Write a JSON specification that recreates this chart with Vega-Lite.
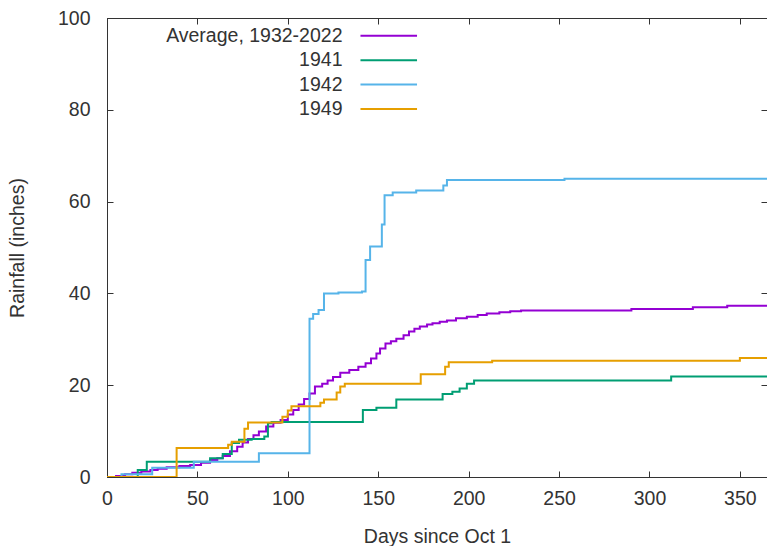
{
  "$schema": "https://vega.github.io/schema/vega-lite/v6.json",
  "width": 660,
  "height": 459,
  "autosize": {"type": "none"},
  "padding": {"left": 107, "top": 18, "right": 0, "bottom": 69},
  "background": "white",
  "config": {
    "view": {"stroke": "#333", "strokeWidth": 1},
    "font": "Liberation Sans",
    "axis": {
      "grid": false,
      "domainColor": "#333",
      "tickColor": "#333",
      "tickSize": -6,
      "labelFlush": false,
      "labelFont": "Liberation Sans",
      "labelFontSize": 19.5,
      "labelColor": "#333",
      "titleFont": "Liberation Sans",
      "titleFontSize": 19.5,
      "titleFontWeight": "normal",
      "titleColor": "#333"
    },
    "legend": {
      "labelFont": "Liberation Sans",
      "labelFontSize": 19.5,
      "labelColor": "#333"
    }
  },
  "data": {
    "values": [
      {"series": "Average, 1932-2022", "day": 0, "rain": 0},
      {"series": "Average, 1932-2022", "day": 5, "rain": 0.2},
      {"series": "Average, 1932-2022", "day": 10, "rain": 0.6},
      {"series": "Average, 1932-2022", "day": 14, "rain": 0.9},
      {"series": "Average, 1932-2022", "day": 19, "rain": 1.2},
      {"series": "Average, 1932-2022", "day": 24, "rain": 1.5},
      {"series": "Average, 1932-2022", "day": 28, "rain": 1.8},
      {"series": "Average, 1932-2022", "day": 33, "rain": 2.1},
      {"series": "Average, 1932-2022", "day": 40, "rain": 2.4},
      {"series": "Average, 1932-2022", "day": 46, "rain": 2.6},
      {"series": "Average, 1932-2022", "day": 52, "rain": 3.1},
      {"series": "Average, 1932-2022", "day": 57, "rain": 3.7},
      {"series": "Average, 1932-2022", "day": 61, "rain": 4.1},
      {"series": "Average, 1932-2022", "day": 64, "rain": 4.6},
      {"series": "Average, 1932-2022", "day": 68, "rain": 5.6},
      {"series": "Average, 1932-2022", "day": 72, "rain": 6.6},
      {"series": "Average, 1932-2022", "day": 75, "rain": 7.5},
      {"series": "Average, 1932-2022", "day": 78, "rain": 8.3},
      {"series": "Average, 1932-2022", "day": 81, "rain": 9.1},
      {"series": "Average, 1932-2022", "day": 84, "rain": 9.9},
      {"series": "Average, 1932-2022", "day": 88, "rain": 11.0},
      {"series": "Average, 1932-2022", "day": 92, "rain": 11.8},
      {"series": "Average, 1932-2022", "day": 96, "rain": 12.4},
      {"series": "Average, 1932-2022", "day": 100, "rain": 13.6},
      {"series": "Average, 1932-2022", "day": 103, "rain": 14.6},
      {"series": "Average, 1932-2022", "day": 106, "rain": 15.8},
      {"series": "Average, 1932-2022", "day": 109, "rain": 17.0},
      {"series": "Average, 1932-2022", "day": 112, "rain": 18.2},
      {"series": "Average, 1932-2022", "day": 115, "rain": 19.7},
      {"series": "Average, 1932-2022", "day": 119, "rain": 20.3},
      {"series": "Average, 1932-2022", "day": 122, "rain": 21.0},
      {"series": "Average, 1932-2022", "day": 125, "rain": 21.8},
      {"series": "Average, 1932-2022", "day": 129, "rain": 22.7},
      {"series": "Average, 1932-2022", "day": 134, "rain": 23.3},
      {"series": "Average, 1932-2022", "day": 139, "rain": 24.0},
      {"series": "Average, 1932-2022", "day": 143, "rain": 24.8},
      {"series": "Average, 1932-2022", "day": 146, "rain": 25.8},
      {"series": "Average, 1932-2022", "day": 149, "rain": 26.9},
      {"series": "Average, 1932-2022", "day": 151, "rain": 28.0},
      {"series": "Average, 1932-2022", "day": 154, "rain": 29.1},
      {"series": "Average, 1932-2022", "day": 157, "rain": 29.6},
      {"series": "Average, 1932-2022", "day": 160, "rain": 30.1},
      {"series": "Average, 1932-2022", "day": 164, "rain": 30.9},
      {"series": "Average, 1932-2022", "day": 167, "rain": 31.7},
      {"series": "Average, 1932-2022", "day": 170, "rain": 32.3},
      {"series": "Average, 1932-2022", "day": 173, "rain": 32.8},
      {"series": "Average, 1932-2022", "day": 177, "rain": 33.2},
      {"series": "Average, 1932-2022", "day": 180, "rain": 33.5},
      {"series": "Average, 1932-2022", "day": 184, "rain": 33.8},
      {"series": "Average, 1932-2022", "day": 188, "rain": 34.1},
      {"series": "Average, 1932-2022", "day": 193, "rain": 34.6},
      {"series": "Average, 1932-2022", "day": 199, "rain": 34.9},
      {"series": "Average, 1932-2022", "day": 205, "rain": 35.3},
      {"series": "Average, 1932-2022", "day": 210, "rain": 35.6},
      {"series": "Average, 1932-2022", "day": 217, "rain": 35.9},
      {"series": "Average, 1932-2022", "day": 223, "rain": 36.1},
      {"series": "Average, 1932-2022", "day": 229, "rain": 36.3},
      {"series": "Average, 1932-2022", "day": 290, "rain": 36.6},
      {"series": "Average, 1932-2022", "day": 324, "rain": 37.0},
      {"series": "Average, 1932-2022", "day": 343, "rain": 37.3},
      {"series": "Average, 1932-2022", "day": 365, "rain": 37.3},

      {"series": "1941", "day": 0, "rain": 0},
      {"series": "1941", "day": 17, "rain": 1.5},
      {"series": "1941", "day": 22, "rain": 3.3},
      {"series": "1941", "day": 57, "rain": 4.1},
      {"series": "1941", "day": 64, "rain": 5.0},
      {"series": "1941", "day": 69, "rain": 7.4},
      {"series": "1941", "day": 73, "rain": 8.1},
      {"series": "1941", "day": 80, "rain": 8.3},
      {"series": "1941", "day": 87, "rain": 8.8},
      {"series": "1941", "day": 89, "rain": 11.7},
      {"series": "1941", "day": 91, "rain": 12.0},
      {"series": "1941", "day": 141.5, "rain": 14.6},
      {"series": "1941", "day": 149, "rain": 15.1},
      {"series": "1941", "day": 160, "rain": 16.9},
      {"series": "1941", "day": 185.6, "rain": 18.1},
      {"series": "1941", "day": 191, "rain": 18.6},
      {"series": "1941", "day": 195, "rain": 19.3},
      {"series": "1941", "day": 199, "rain": 20.3},
      {"series": "1941", "day": 203, "rain": 21.0},
      {"series": "1941", "day": 312, "rain": 21.9},
      {"series": "1941", "day": 365, "rain": 21.9},

      {"series": "1942", "day": 0, "rain": 0},
      {"series": "1942", "day": 8, "rain": 0.6},
      {"series": "1942", "day": 25, "rain": 2.0},
      {"series": "1942", "day": 48, "rain": 3.3},
      {"series": "1942", "day": 84, "rain": 5.2},
      {"series": "1942", "day": 112, "rain": 34.5},
      {"series": "1942", "day": 114, "rain": 35.5},
      {"series": "1942", "day": 117, "rain": 36.4},
      {"series": "1942", "day": 120, "rain": 40.0},
      {"series": "1942", "day": 128, "rain": 40.2},
      {"series": "1942", "day": 141, "rain": 40.4},
      {"series": "1942", "day": 143, "rain": 47.3},
      {"series": "1942", "day": 145.5, "rain": 50.2},
      {"series": "1942", "day": 152, "rain": 55.0},
      {"series": "1942", "day": 153.5, "rain": 61.4},
      {"series": "1942", "day": 158, "rain": 62.0},
      {"series": "1942", "day": 171, "rain": 62.4},
      {"series": "1942", "day": 186, "rain": 63.5},
      {"series": "1942", "day": 188, "rain": 64.7},
      {"series": "1942", "day": 253, "rain": 65.0},
      {"series": "1942", "day": 365, "rain": 65.0},

      {"series": "1949", "day": 0, "rain": 0},
      {"series": "1949", "day": 38.5, "rain": 6.3},
      {"series": "1949", "day": 67, "rain": 7.0},
      {"series": "1949", "day": 69, "rain": 7.7},
      {"series": "1949", "day": 76, "rain": 10.5},
      {"series": "1949", "day": 78, "rain": 11.9},
      {"series": "1949", "day": 97, "rain": 13.1},
      {"series": "1949", "day": 100, "rain": 14.5},
      {"series": "1949", "day": 102, "rain": 15.4},
      {"series": "1949", "day": 118, "rain": 16.2},
      {"series": "1949", "day": 120, "rain": 16.9},
      {"series": "1949", "day": 127, "rain": 18.4},
      {"series": "1949", "day": 129, "rain": 19.7},
      {"series": "1949", "day": 131.5, "rain": 20.3},
      {"series": "1949", "day": 173.5, "rain": 22.4},
      {"series": "1949", "day": 187, "rain": 24.0},
      {"series": "1949", "day": 189, "rain": 25.0},
      {"series": "1949", "day": 213, "rain": 25.3},
      {"series": "1949", "day": 350, "rain": 25.9},
      {"series": "1949", "day": 365, "rain": 25.9}
    ]
  },
  "resolve": {"axis": {"x": "independent", "y": "independent"}},
  "layer": [
    {
      "mark": {"type": "line", "interpolate": "step-after", "strokeWidth": 2, "clip": true},
      "encoding": {
        "x": {
          "field": "day", "type": "quantitative",
          "scale": {"domain": [0, 365], "nice": false, "zero": false},
          "axis": {"values": [0, 50, 100, 150, 200, 250, 300, 350], "title": "Days since Oct 1", "labelPadding": 18, "titlePadding": 20}
        },
        "y": {
          "field": "rain", "type": "quantitative",
          "scale": {"domain": [0, 100], "nice": false},
          "axis": {"values": [0, 20, 40, 60, 80, 100], "title": "Rainfall (inches)", "labelPadding": 23, "titlePadding": 30}
        },
        "color": {
          "field": "series", "type": "nominal",
          "scale": {
            "domain": ["Average, 1932-2022", "1941", "1942", "1949"],
            "range": ["#9400d3", "#009e73", "#56b4e9", "#e69f00"]
          },
          "legend": {
            "title": null,
            "orient": "none",
            "legendX": 272,
            "legendY": 8,
            "padding": 0,
            "symbolType": "M-4,0H4",
            "symbolSize": 200,
            "symbolStrokeWidth": 2,
            "symbolFillColor": "transparent",
            "labelAlign": "right",
            "labelOffset": -56,
            "labelLimit": 400,
            "rowPadding": 3.4
          }
        }
      }
    },
    {
      "mark": {"type": "line", "strokeOpacity": 0},
      "encoding": {
        "x": {
          "field": "day", "type": "quantitative",
          "axis": {"orient": "top", "values": [0, 50, 100, 150, 200, 250, 300, 350], "labels": false, "domain": false, "title": null}
        },
        "y": {
          "field": "rain", "type": "quantitative",
          "axis": {"orient": "right", "values": [0, 20, 40, 60, 80, 100], "labels": false, "domain": false, "title": null}
        },
        "detail": {"field": "series"}
      }
    }
  ]
}
